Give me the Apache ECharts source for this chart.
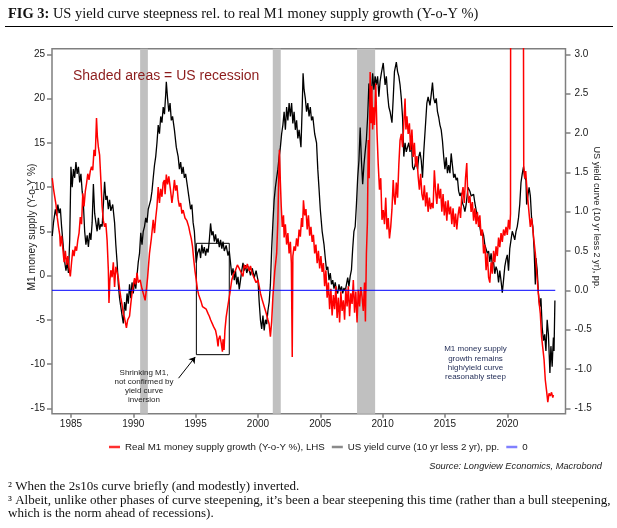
<!DOCTYPE html>
<html><head><meta charset="utf-8">
<script src="https://cdn.jsdelivr.net/npm/echarts@6/dist/echarts.min.js"></script>
<style>html,body{margin:0;padding:0;background:#fff}#c{width:617px;height:528px}</style>
</head><body><div id="c"></div>
<script>
// ---------- data ----------
const xTicks = [1985, 1990, 1995, 2000, 2005, 2010, 2015, 2020];
const leftTicks = [-15, -10, -5, 0, 5, 10, 15, 20, 25];
const rightTicks = [-1.5, -1.0, -0.5, 0, 0.5, 1.0, 1.5, 2.0, 2.5, 3.0];
const recessionStart = [1990.55, 2001.19, 2007.95];
const recessionEnd = [1991.17, 2001.83, 2009.40];

const m1Years = [1983.5,1983.6,1983.7,1983.8,1983.9,1984.0,1984.1,1984.15,1984.25,1984.35,1984.45,1984.55,1984.65,1984.75,1984.85,1984.95,
1985.05,1985.15,1985.25,1985.35,1985.45,1985.55,1985.65,1985.75,1985.85,1985.95,1986.05,1986.15,1986.25,1986.35,1986.45,1986.55,1986.65,1986.75,1986.85,1986.95,
1987.05,1987.12,1987.2,1987.3,1987.4,1987.5,1987.6,1987.7,1987.8,1987.9,1988.0,1988.05,1988.12,1988.2,1988.3,1988.4,1988.5,1988.6,1988.7,1988.8,1988.9,
1989.0,1989.1,1989.2,1989.3,1989.45,1989.55,1989.7,1989.8,1989.9,1990.0,1990.1,1990.2,1990.3,1990.4,1990.55,1990.7,1990.8,1990.95,
1991.05,1991.15,1991.3,1991.45,1991.6,1991.7,1991.8,1991.9,1992.0,1992.1,1992.2,1992.3,1992.4,1992.5,1992.55,1992.65,1992.75,1992.85,
1993.0,1993.1,1993.2,1993.3,1993.4,1993.5,1993.6,1993.7,1993.8,1993.9,1994.0,1994.15,1994.3,1994.45,1994.55,1994.65,1994.75,1994.85,1994.95,
1995.05,1995.15,1995.25,1995.35,1995.45,1995.55,1995.7,1995.85,1996.0,1996.1,1996.2,1996.3,1996.45,1996.6,1996.7,1996.8,1996.85,1996.95,
1997.05,1997.15,1997.2,1997.28,1997.35,1997.45,1997.6,1997.75,1997.9,1998.05,1998.2,1998.35,1998.5,1998.6,1998.7,1998.8,1998.9,
1999.05,1999.15,1999.3,1999.4,1999.55,1999.7,1999.85,2000.0,2000.1,2000.2,2000.35,2000.5,2000.65,2000.8,2000.9,
2001.0,2001.1,2001.2,2001.35,2001.5,2001.6,2001.65,2001.72,2001.8,2001.87,2001.95,2002.05,2002.1,2002.2,2002.3,2002.4,2002.5,2002.6,2002.68,2002.75,2002.8,2002.9,
2003.0,2003.1,2003.2,2003.3,2003.4,2003.5,2003.58,2003.65,2003.75,2003.85,2003.95,2004.05,2004.15,2004.25,2004.35,2004.45,2004.55,2004.65,2004.75,2004.85,2004.95,
2005.05,2005.15,2005.25,2005.35,2005.45,2005.55,2005.65,2005.75,2005.85,2005.95,2006.05,2006.15,2006.25,2006.35,2006.45,2006.55,2006.65,2006.75,2006.85,2006.95,
2007.05,2007.15,2007.25,2007.35,2007.45,2007.55,2007.65,2007.75,2007.85,2007.95,2008.05,2008.15,2008.25,2008.35,2008.45,2008.55,2008.62,2008.7,2008.78,2008.85,2008.92,
2009.0,2009.07,2009.13,2009.2,2009.27,2009.35,2009.45,2009.55,2009.65,2009.75,2009.85,2009.95,2010.05,2010.15,2010.25,2010.35,2010.45,2010.55,2010.65,2010.75,2010.85,2010.92,
2011.0,2011.1,2011.2,2011.3,2011.4,2011.5,2011.6,2011.7,2011.8,2011.87,2011.95,2012.05,2012.15,2012.25,2012.35,2012.45,2012.55,2012.65,2012.75,2012.85,2012.95,
2013.05,2013.15,2013.25,2013.35,2013.45,2013.55,2013.65,2013.75,2013.85,2013.95,2014.05,2014.15,2014.25,2014.35,2014.45,2014.55,2014.65,2014.75,2014.85,2014.95,
2015.05,2015.15,2015.25,2015.35,2015.45,2015.55,2015.65,2015.75,2015.85,2015.95,2016.05,2016.15,2016.25,2016.35,2016.45,2016.55,2016.65,2016.75,2016.82,2016.9,
2017.0,2017.1,2017.2,2017.3,2017.4,2017.5,2017.6,2017.7,2017.8,2017.9,2018.0,2018.1,2018.2,2018.3,2018.4,2018.5,2018.6,2018.7,2018.8,2018.9,
2019.0,2019.1,2019.2,2019.3,2019.4,2019.5,2019.6,2019.7,2019.8,2019.9,2020.0,2020.1,2020.2,2020.26,2020.3,2020.38,2021.2,2021.28,2021.32,2021.4,2021.48,2021.55,2021.65,2021.75,2021.85,2021.95,
2022.05,2022.15,2022.25,2022.35,2022.45,2022.55,2022.65,2022.75,2022.85,2022.95,2023.05,2023.15,2023.25,2023.35,2023.45,2023.55,2023.65,2023.7];
const m1Growth = [11,9.8,8.9,8,6.6,5.5,4.6,3.3,4.5,3,1.5,2.8,1.2,2.2,0.8,-0.1,
1.5,2.9,2.2,3.3,2.8,4.0,4.8,6.6,5.8,9.3,7.8,9.5,10.4,11.5,10.8,11.8,12.3,11.9,14.2,13.5,
17.8,15.7,14.5,13.6,10.8,7.8,6.2,5.5,5.9,4,0.6,-3.1,-0.6,0.6,-0.2,1.5,-1.3,1,0.4,-0.3,-1.5,
-2.5,-3.3,-4.3,-4.8,-5.9,-5,-4.6,-3.2,-2,-1.2,-0.3,-1,0.3,-0.8,-0.5,-1.5,-2,-2.8,
-1.6,-0.2,2.5,4.2,6.3,4.8,6.5,7.8,10,8.2,9.8,8.9,10.5,10.8,9.2,11.4,10.3,11.2,
9.5,8.2,9.3,10.8,9.6,10.2,8.6,7.8,8.2,7,7.4,6.5,6.2,5.5,4.8,4.2,3.3,1.8,0.5,
-0.5,-1.6,-2.2,-2.4,-3,-3.5,-3.3,-3.8,-4.3,-4.6,-5,-5.2,-5.8,-6.2,-6.9,-8,-7.2,-6.8,
-7.6,-8.6,-7.2,-8.4,-6.2,-4.7,-3.3,-2,-0.5,0.2,0.6,1.2,0.8,1,0.2,-0.1,1.2,
0.8,1.3,0.5,1.1,0.2,0.3,-0.8,-0.5,-1.2,-2,-2.8,-3.5,-4.2,-5,-5.5,
-6.9,-5.2,-2.4,0.5,2.5,6.3,10,14.2,10.5,7.8,5.5,6.8,4.3,5.8,3.5,4.8,2.5,3.8,1.4,-9.2,2.2,3.3,
2.8,4.2,3.3,5.2,4.4,6.5,5.5,8.5,6.8,7.5,5.2,6.8,4.5,5.5,3.8,4.6,2.5,3.5,1.4,2.8,0.8,
2.2,0.4,1.4,-1.2,0.6,-2.5,-0.8,-3.8,-1.5,-4.5,-2.2,-3.8,-1.2,-4.8,-2.5,-5.3,-1.8,-4,-2.8,-5,
-1.5,-3.5,-1.2,-4.6,-2,-3.2,-0.5,-4.2,-1.8,-5.3,-1.6,-3.5,-1.3,-2.4,-4,-0.8,-5.2,2.5,6,15.3,11,
23,17.2,21.4,16.5,19,17,21.7,16.1,12.5,9.7,11,6.3,7.4,5.8,8.8,5.2,6.5,4.2,5.5,7.5,10.8,9,
8,10.5,8.8,12.5,15.3,16,14.5,17.2,20,16.5,18,16,17.2,14.2,16.5,13.4,15,12.3,13.5,11.2,9.7,
11.5,9.2,8.5,10.2,7.8,9.4,7.2,8.8,7.5,8.2,7.6,11.9,9.6,8.1,10.4,8.7,9.8,7.2,9.2,6.8,
8.4,6.2,8.5,6.9,7.8,5.8,7.6,5.5,7,5.2,6.8,7.8,6.5,9,10,8.2,11,12.7,9.5,8.2,
9,7.2,8.3,6.2,7.6,5.8,7.2,5.5,6.8,4.5,5.2,2.5,3.5,0.6,2.5,-0.2,-0.8,1.5,0.2,2.8,
1.5,3.3,2.2,4.3,3.2,4.8,3.8,5.2,4.5,5.5,4.6,6.3,5.2,7,120,400,400,40,12.3,11,11.8,10.3,8.6,7,5.5,6.5,
5.2,3.8,2.5,0.5,-1.3,-3,-4.3,-6.9,-8.2,-9.5,-11.8,-13,-14.3,-13.3,-13.6,-13.2,-13.8,-13.5];

const curveYears = [1983.5,1983.6,1983.75,1983.85,1983.95,1984.05,1984.15,1984.25,1984.4,1984.5,1984.6,1984.7,1984.8,1984.9,
1985.0,1985.1,1985.2,1985.3,1985.4,1985.5,1985.6,1985.7,1985.8,1985.9,1986.0,1986.1,1986.2,1986.3,1986.4,1986.5,1986.6,1986.7,1986.8,1986.9,
1987.0,1987.1,1987.2,1987.3,1987.4,1987.5,1987.6,1987.7,1987.8,1987.9,1988.0,1988.1,1988.2,1988.35,1988.5,1988.6,1988.7,1988.8,1988.9,
1989.0,1989.1,1989.2,1989.3,1989.4,1989.5,1989.6,1989.7,1989.8,1989.9,1990.0,1990.1,1990.2,1990.3,1990.4,1990.5,1990.6,1990.7,1990.8,1990.9,
1991.0,1991.1,1991.2,1991.3,1991.4,1991.5,1991.6,1991.7,1991.8,1991.9,1992.0,1992.1,1992.2,1992.3,1992.4,1992.5,1992.6,1992.65,1992.75,1992.85,1992.95,
1993.05,1993.15,1993.3,1993.45,1993.6,1993.7,1993.8,1993.9,1994.0,1994.1,1994.2,1994.3,1994.45,1994.6,1994.7,1994.8,1994.9,
1995.0,1995.05,1995.15,1995.3,1995.4,1995.5,1995.6,1995.7,1995.8,1995.9,1996.0,1996.1,1996.2,1996.3,1996.4,1996.5,1996.6,1996.7,1996.8,1996.9,
1997.0,1997.1,1997.2,1997.3,1997.45,1997.6,1997.7,1997.8,1997.9,1998.0,1998.1,1998.2,1998.3,1998.4,1998.5,1998.6,1998.7,1998.8,1998.9,
1999.0,1999.1,1999.25,1999.4,1999.55,1999.7,1999.85,2000.0,2000.1,2000.2,2000.3,2000.4,2000.5,2000.6,2000.7,2000.8,2000.9,
2001.0,2001.1,2001.2,2001.3,2001.4,2001.5,2001.6,2001.7,2001.8,2001.9,2002.0,2002.1,2002.2,2002.3,2002.4,2002.5,2002.6,2002.7,2002.8,2002.9,
2003.0,2003.1,2003.2,2003.3,2003.45,2003.55,2003.62,2003.7,2003.8,2003.9,2004.0,2004.1,2004.2,2004.3,2004.4,2004.55,2004.7,2004.8,2004.9,
2005.0,2005.15,2005.3,2005.4,2005.5,2005.6,2005.7,2005.8,2005.9,2006.0,2006.1,2006.2,2006.3,2006.4,2006.5,2006.6,2006.7,2006.8,2006.9,
2007.0,2007.1,2007.2,2007.3,2007.4,2007.5,2007.6,2007.7,2007.8,2007.9,2008.0,2008.1,2008.2,2008.3,2008.4,2008.5,2008.6,2008.7,2008.8,2008.9,
2009.0,2009.1,2009.2,2009.3,2009.4,2009.5,2009.6,2009.7,2009.8,2009.9,2010.05,2010.2,2010.3,2010.4,2010.5,2010.6,2010.75,2010.85,2010.95,
2011.1,2011.2,2011.3,2011.4,2011.5,2011.6,2011.7,2011.8,2011.9,2012.0,2012.1,2012.2,2012.3,2012.4,2012.5,2012.6,2012.7,2012.8,2012.9,
2013.0,2013.1,2013.2,2013.3,2013.45,2013.55,2013.65,2013.8,2013.9,2014.0,2014.1,2014.2,2014.3,2014.4,2014.5,2014.6,2014.7,2014.8,2014.9,
2015.0,2015.1,2015.2,2015.3,2015.4,2015.5,2015.6,2015.7,2015.8,2015.9,2016.0,2016.1,2016.2,2016.3,2016.4,2016.5,2016.6,2016.7,2016.85,
2017.0,2017.1,2017.2,2017.3,2017.4,2017.55,2017.7,2017.8,2017.9,2018.0,2018.1,2018.2,2018.3,2018.4,2018.5,2018.6,2018.7,2018.8,2018.9,
2019.0,2019.1,2019.2,2019.3,2019.4,2019.5,2019.6,2019.7,2019.8,2019.9,2020.0,2020.1,2020.2,2020.3,2020.4,2020.5,2020.6,2020.7,2020.8,2020.9,
2021.0,2021.1,2021.2,2021.3,2021.4,2021.5,2021.55,2021.65,2021.75,2021.85,2021.95,2022.05,2022.15,2022.25,2022.3,2022.4,2022.5,2022.6,2022.7,2022.8,2022.9,
2023.0,2023.1,2023.2,2023.3,2023.42,2023.5,2023.6,2023.65,2023.7,2023.75,2023.82];
const curveSpread = [0.69,0.86,1.03,0.95,1.09,0.98,1.04,0.81,0.53,0.36,0.25,0.36,0.22,0.64,
1.57,1.31,1.54,1.43,1.63,1.48,1.57,1.37,1.48,1.26,1.09,0.75,0.58,0.70,0.55,0.73,0.64,0.86,1.35,0.98,
0.86,0.75,0.92,0.77,0.84,0.81,1.09,1.38,1.15,1.20,1.03,1.15,1.01,1.09,0.86,0.58,0.36,0.075,-0.10,
-0.21,-0.32,-0.42,-0.15,-0.26,-0.04,-0.17,0.075,-0.10,0.10,-0.04,0.13,0.02,0.19,0.36,0.47,0.73,0.58,0.75,0.81,
0.92,0.86,1.03,1.09,1.15,1.26,1.43,1.59,1.70,1.875,2.10,1.99,2.21,2.13,2.33,2.24,2.49,2.65,2.44,2.27,2.38,
2.16,2.21,2.04,1.82,1.70,1.54,1.63,1.48,1.57,1.43,1.48,1.37,1.20,1.03,1.09,0.86,0.75,
0.47,0.35,0.47,0.53,0.41,0.58,0.47,0.55,0.44,0.53,0.48,0.64,0.85,0.70,0.75,0.62,0.71,0.60,0.66,0.55,
0.64,0.53,0.62,0.50,0.57,0.44,0.50,0.35,0.19,0.28,0.13,0.25,0.075,0.17,0.01,0.13,0.25,0.35,0.25,
0.32,0.22,0.30,0.19,0.28,0.16,0.25,0.13,-0.15,-0.375,-0.49,-0.32,-0.51,-0.375,-0.43,-0.26,-0.15,
0.075,0.53,0.86,1.15,1.31,1.43,1.54,1.70,1.82,1.99,2.10,2.27,2.04,2.33,2.16,2.38,2.21,2.38,2.12,2.27,
2.04,2.16,1.93,2.04,1.82,2.33,2.76,2.55,2.44,2.27,2.38,2.21,2.33,2.16,2.21,1.99,1.875,1.54,1.29,
1.03,0.75,0.58,0.41,0.26,0.30,0.13,0.22,0.075,0.13,0.02,0.10,-0.01,-0.04,0.075,-0.01,0.05,-0.04,0.03,
-0.01,0.075,0.16,0.05,0.18,0.26,0.53,0.75,0.81,1.09,1.43,1.65,2.07,1.65,1.35,1.59,1.76,1.92,2.21,2.63,
2.33,2.49,2.76,2.55,2.72,2.61,2.72,2.46,2.66,2.76,2.89,2.61,2.72,2.49,2.33,2.27,2.13,2.44,2.78,
2.90,2.78,2.72,2.61,2.44,2.20,1.70,1.875,1.76,1.82,1.875,1.76,1.93,1.57,1.53,1.59,1.65,1.54,1.70,
1.76,1.65,1.43,1.76,2.13,2.38,2.46,2.35,2.49,2.64,2.44,2.38,2.44,2.27,2.20,2.10,2.04,1.90,1.70,
1.54,1.69,1.49,1.59,1.49,1.74,1.59,1.43,1.48,1.40,1.43,1.26,1.20,1.24,1.11,1.07,1.00,1.09,1.31,
1.26,1.20,1.20,1.22,1.11,0.975,0.90,0.81,0.70,0.75,0.70,0.58,0.58,0.47,0.50,0.36,0.47,0.33,0.36,
0.21,0.30,0.25,0.10,0.25,0.12,-0.03,0.13,0.30,0.39,0.45,0.25,0.53,0.64,0.75,0.70,0.64,0.75,0.81,0.92,
1.09,1.37,1.48,1.57,1.43,1.40,1.09,1.07,1.31,1.20,0.92,0.81,0.53,0.075,0.41,0.25,-0.04,-0.21,-0.10,-0.47,-0.64,
-0.56,-0.77,-0.375,-0.56,-1.05,-0.71,-0.97,-0.77,-0.60,-0.77,-0.13];

const zeroYears = [1983.48, 2023.85];
const zeroValues = [0, 0];

const nameM1 = 'Real M1 money supply growth (Y-o-Y %), LHS';
const nameCurve = 'US yield curve (10 yr less 2 yr), pp.';
const nameZero = '0';

// ---------- helpers ----------
const ctx = document.createElement('canvas').getContext('2d');
function textW(txt, font) { ctx.font = font; return ctx.measureText(txt).width; }
const SERIF = '"Liberation Serif", serif';
const SANS = '"Liberation Sans", Arial, sans-serif';
const titleA = 'FIG 3:';
const titleB = ' US yield curve steepness rel. to real M1 money supply growth (Y-o-Y %)';
const tW = textW(titleA, 'bold 100px ' + SERIF) + textW(titleB, '100px ' + SERIF);
const titleSize = 100 * 471 / tW;
const foot2 = '\u00B3 Albeit, unlike other phases of curve steepening, it\u2019s been a bear steepening this time (rather than a bull steepening,';
const footSize = 100 * 603 / textW(foot2, '100px ' + SERIF);
const leftName = 'M1 money supply (Y-o-Y %)';
const rightName = 'US yield curve (10 yr less 2 yr), pp.';
const leftNameSize = 100 * 127 / textW(leftName, '100px ' + SANS);
const rightNameSize = 100 * 142 / textW(rightName, '100px ' + SANS);
const srcText = 'Source: Longview Economics, Macrobond';
const srcSize = 100 * 173 / textW(srcText, 'italic 100px ' + SANS);
const legendSize = 100 * 200 / textW(nameM1, '100px ' + SANS);

const pairs = (xs, ys) => xs.map((x, i) => [x, ys[i]]);
const AX = '#7f7f7f';

const chart = echarts.init(document.getElementById('c'), null, { renderer: 'canvas' });
chart.setOption({
  animation: false,
  backgroundColor: '#fff',
  textStyle: { fontFamily: SANS },
  grid: { left: 52, right: 51.5, top: 48.7, bottom: 114.3, show: true, borderColor: AX, borderWidth: 1.5, backgroundColor: 'transparent', containLabel: false },
  xAxis: {
    type: 'value', min: 1983.48, max: 2024.67,
    axisLine: { show: false, onZero: false }, splitLine: { show: false },
    axisTick: { show: true, customValues: xTicks, length: 4, lineStyle: { color: AX, width: 1.5 } },
    axisLabel: { customValues: xTicks, formatter: v => String(v), fontSize: 10, color: '#1a1a1a', margin: 6, fontFamily: SANS }
  },
  yAxis: [
    { type: 'value', position: 'left', min: -15.61, max: 25.63,
      axisLine: { show: false, onZero: false }, splitLine: { show: false },
      axisTick: { show: true, customValues: leftTicks, length: 5, lineStyle: { color: AX, width: 1.5 } },
      axisLabel: { customValues: leftTicks, formatter: v => String(v), fontSize: 10, color: '#1a1a1a', margin: 7, fontFamily: SANS } },
    { type: 'value', position: 'right', min: -1.5686, max: 3.0712,
      axisLine: { show: false, onZero: false }, splitLine: { show: false },
      axisTick: { show: true, customValues: rightTicks, length: 5, lineStyle: { color: AX, width: 1.5 } },
      axisLabel: { customValues: rightTicks, formatter: v => v.toFixed(1), fontSize: 10, color: '#1a1a1a', margin: 9, fontFamily: SANS } }
  ],
  legend: {
    left: 104, top: 437, icon: 'rect', itemWidth: 11, itemHeight: 2.5, itemGap: 7,
    textStyle: { fontSize: legendSize, color: '#1a1a1a', fontFamily: SANS },
    data: [
      { name: nameM1, itemStyle: { color: '#ff3030' } },
      { name: nameCurve, itemStyle: { color: '#8a8a8a' } },
      { name: nameZero, itemStyle: { color: '#8080ff' } }
    ]
  },
  series: [
    { type: 'line', name: 'recessions', data: [], z: 1, silent: true,
      markArea: { silent: true, itemStyle: { color: '#c0c0c0' },
        data: recessionStart.map((s, i) => [{ xAxis: s }, { xAxis: recessionEnd[i] }]) } },
    { type: 'line', name: nameCurve, yAxisIndex: 1, data: pairs(curveYears, curveSpread), showSymbol: false, z: 3,
      lineStyle: { color: '#000', width: 1.3 }, itemStyle: { color: '#000' } },
    { type: 'line', name: nameM1, yAxisIndex: 0, data: pairs(m1Years, m1Growth), showSymbol: false, z: 4,
      lineStyle: { color: '#ff0000', width: 1.5 }, itemStyle: { color: '#ff0000' } },
    { type: 'line', name: nameZero, yAxisIndex: 1, data: pairs(zeroYears, zeroValues), showSymbol: false, z: 5,
      lineStyle: { color: '#0000ff', width: 1 }, itemStyle: { color: '#0000ff' } },
    { type: 'line', name: 'annot', yAxisIndex: 0, data: [], z: 6, silent: true,
      markArea: { silent: true, itemStyle: { color: 'rgba(0,0,0,0)', borderColor: '#000', borderWidth: 1 },
        data: [[{ coord: [1995.06, 3.64] }, { coord: [1997.7, -8.94] }]] },
      markLine: { silent: true, symbol: ['none', 'arrow'], symbolSize: 6, label: { show: false },
        lineStyle: { color: '#000', width: 1, type: 'solid' },
        data: [[{ coord: [1993.63, -11.6] }, { coord: [1994.97, -9.2] }]] } }
  ],
  graphic: [
    { type: 'text', x: 8, y: 14, z: 100, style: { text: '{b|' + titleA + '}{r|' + titleB + '}', verticalAlign: 'middle',
        rich: { b: { fontFamily: SERIF, fontWeight: 'bold', fontSize: titleSize, fill: '#111' },
                r: { fontFamily: SERIF, fontSize: titleSize, fill: '#111' } } } },
    { type: 'line', z: 100, shape: { x1: 5, y1: 26.5, x2: 613, y2: 26.5 }, style: { stroke: '#000', lineWidth: 1 } },
    { type: 'text', x: 73, y: 76, z: 100, style: { text: 'Shaded areas = US recession', font: '14px ' + SANS, fill: '#8c1c1c', verticalAlign: 'middle' } },
    { type: 'text', x: 144, y: 367.7, z: 100, style: { text: 'Shrinking M1,\nnot confirmed by\nyield curve\ninversion', font: '8px ' + SANS, lineHeight: 9.3, fill: '#222', align: 'center', verticalAlign: 'top' } },
    { type: 'text', x: 475.5, y: 344.5, z: 100, style: { text: 'M1 money supply\ngrowth remains\nhigh/yield curve\nreasonably steep', font: '8px ' + SANS, lineHeight: 9.3, fill: '#1f2a55', align: 'center', verticalAlign: 'top' } },
    { type: 'text', x: 32, y: 227, z: 100, rotation: Math.PI / 2, style: { text: leftName, font: leftNameSize.toFixed(2) + 'px ' + SANS, fill: '#1a1a1a', align: 'center', verticalAlign: 'middle' } },
    { type: 'text', x: 597, y: 217.5, z: 100, rotation: -Math.PI / 2, style: { text: rightName, font: rightNameSize.toFixed(2) + 'px ' + SANS, fill: '#1a1a1a', align: 'center', verticalAlign: 'middle' } },
    { type: 'text', x: 602, y: 466, z: 100, style: { text: srcText, font: 'italic ' + srcSize.toFixed(2) + 'px ' + SANS, fill: '#1a1a1a', align: 'right', verticalAlign: 'middle' } },
    { type: 'text', x: 8, y: 487, z: 100, style: { text: '\u00B2 When the 2s10s curve briefly (and modestly) inverted.', font: footSize.toFixed(2) + 'px ' + SERIF, fill: '#111', verticalAlign: 'middle' } },
    { type: 'text', x: 8, y: 500.5, z: 100, style: { text: foot2, font: footSize.toFixed(2) + 'px ' + SERIF, fill: '#111', verticalAlign: 'middle' } },
    { type: 'text', x: 8, y: 514, z: 100, style: { text: 'which is the norm ahead of recessions).', font: footSize.toFixed(2) + 'px ' + SERIF, fill: '#111', verticalAlign: 'middle' } }
  ]
});
</script>
</body></html>
